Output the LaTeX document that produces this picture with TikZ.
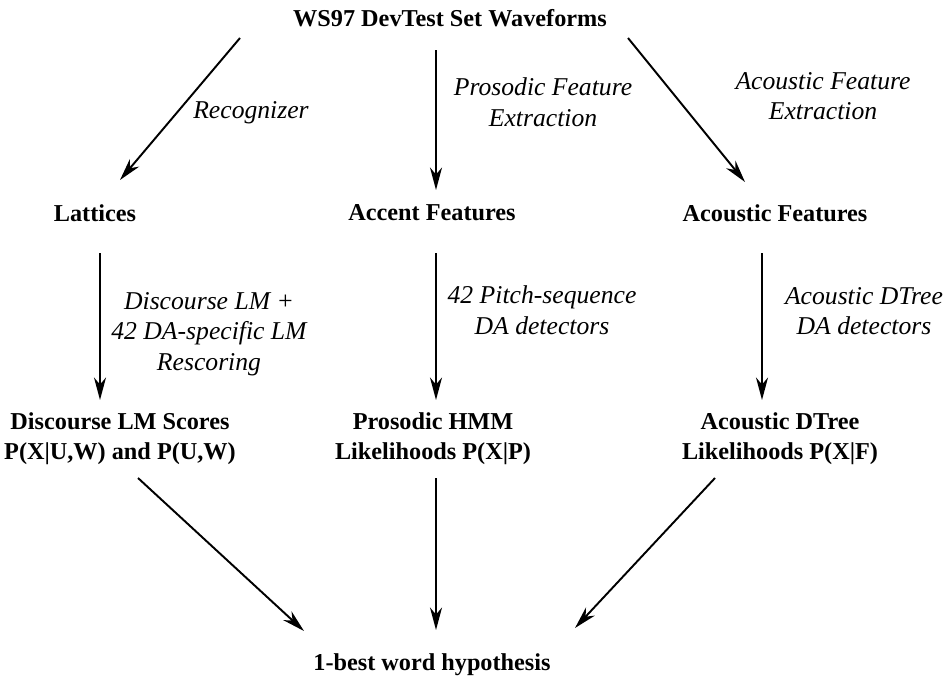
\documentclass[tikz,border=0pt]{standalone}
\usepackage{fontspec}
\setmainfont{Liberation Serif}
\usetikzlibrary{positioning,arrows.meta,calc}
\tikzset{
  box/.style={align=center, inner sep=0pt, font=\fontsize{13.8}{17}\selectfont\bfseries},
  lbl/.style={align=center, inner sep=0pt, font=\fontsize{14.6}{17.4}\selectfont\itshape},
  arr/.style={-{Stealth[length=4.5mm,width=2.4mm,inset=1.4mm]}, line width=1.1pt},
}

\begin{document}
\begin{tikzpicture}[x=0.02cm, y=-0.02cm]
  \useasboundingbox (0,0) rectangle (952,683);
  % nodes
  \node[box] (ws) at (450,18) {WS97 DevTest Set Waveforms};
  \node[box] (lat) at (95,213) {Lattices};
  \node[box] (acc) at (432,213) {Accent Features};
  \node[box] (acf) at (775,213) {Acoustic Features};
  \node[box] (dlm) at (120,439) {Discourse LM Scores\\P(X|U,W) and P(U,W)};
  \node[box] (phmm) at (433,439) {Prosodic HMM\\Likelihoods P(X|P)};
  \node[box] (adt) at (780,439) {Acoustic DTree\\Likelihoods P(X|F)};
  \node[box] (best) at (432,665) {1-best word hypothesis};
  % labels
  \node[lbl] (rec) at (251,113) {Recognizer};
  \node[lbl] (pfe) at (543,102) {Prosodic Feature\\Extraction};
  \node[lbl] (afe) at (823,96) {Acoustic Feature\\Extraction};
  \node[lbl] (dlmr) at (209,334) {Discourse LM +\\42 DA-specific LM\\Rescoring};
  \node[lbl] (pitch) at (542,310) {42 Pitch-sequence\\DA detectors};
  \node[lbl] (adtd) at (864,311) {Acoustic DTree\\DA detectors};
  % arrows
  \draw[arr] ($(ws)+(-210,20)$) -- ($(lat)+(25,-33)$);
  \draw[arr] ($(ws)+(-14,32)$) -- ($(acc)+(4,-23)$);
  \draw[arr] ($(ws)+(178,20)$) -- ($(acf)+(-30,-31)$);
  \draw[arr] ($(lat)+(5,40)$) -- ($(dlm)+(-20,-39)$);
  \draw[arr] ($(acc)+(4,40)$) -- ($(phmm)+(3,-39)$);
  \draw[arr] ($(acf)+(-13,40)$) -- ($(adt)+(-18,-39)$);
  \draw[arr] ($(dlm)+(18,39)$) -- ($(best)+(-128,-34)$);
  \draw[arr] ($(phmm)+(3,39)$) -- ($(best)+(4,-35)$);
  \draw[arr] ($(adt)+(-65,39)$) -- ($(best)+(143,-37)$);
\end{tikzpicture}
\end{document}
